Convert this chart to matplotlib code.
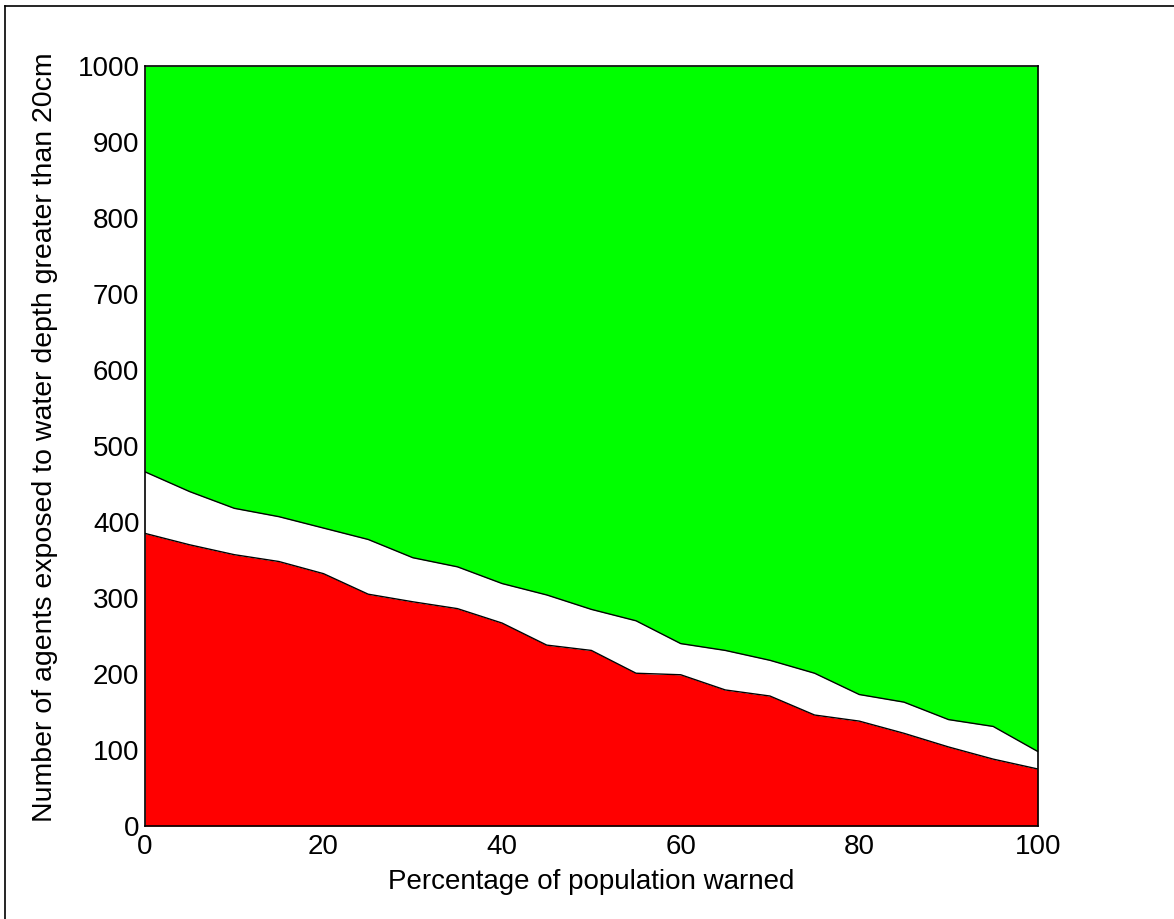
import numpy as np
import matplotlib
matplotlib.use('Agg')
import matplotlib.pyplot as plt
from matplotlib.lines import Line2D

plt.rcParams['font.family'] = ['Liberation Sans', 'DejaVu Sans']

# percentage of population warned
pct_warned = [0, 5, 10, 15, 20, 25, 30, 35, 40, 45, 50,
              55, 60, 65, 70, 75, 80, 85, 90, 95, 100]
# lower band (red)
exposed_low = [385, 370, 357, 348, 332, 305, 295, 286, 267, 238, 231,
               201, 199, 179, 171, 146, 138, 122, 104, 88, 75]
# upper band (top of white)
exposed_high = [466, 440, 418, 407, 392, 377, 353, 341, 319, 304, 285,
                270, 240, 231, 218, 201, 173, 163, 140, 131, 98]
y_max = 1000

fig = plt.figure(figsize=(11.74, 9.19), dpi=100)
ax = fig.add_axes([0.1235, 0.1012, 0.7605, 0.8270])

x = np.array(pct_warned)
lo = np.array(exposed_low)
hi = np.array(exposed_high)

ax.fill_between(x, 0, lo, color='#ff0000', linewidth=0)
ax.fill_between(x, lo, hi, color='white', linewidth=0)
ax.fill_between(x, hi, y_max, color='#00ff00', linewidth=0)
ax.plot(x, lo, color='black', linewidth=1)
ax.plot(x, hi, color='black', linewidth=1)

ax.set_xlim(0, 100)
ax.set_ylim(0, 1000)
ax.set_xticks(np.arange(0, 101, 20))
ax.set_yticks(np.arange(0, 1001, 100))
ax.tick_params(length=0, labelsize=20)
ax.tick_params(axis='y', pad=4)
ax.tick_params(axis='x', pad=6)
for s in ax.spines.values():
    s.set_linewidth(1.2)

ax.set_xlabel('Percentage of population warned', fontsize=20, labelpad=6)
ax.set_ylabel('Number of agents exposed to water depth greater than 20cm', fontsize=20.5)
ax.yaxis.set_label_coords(-0.0974, 0.512)

# frame lines on the left and top edges of the figure
fig.add_artist(Line2D([5 / 1174, 5 / 1174], [0, 1 - 6 / 919], transform=fig.transFigure, color='black', linewidth=1.2))
fig.add_artist(Line2D([5 / 1174, 1], [1 - 6 / 919, 1 - 6 / 919], transform=fig.transFigure, color='black', linewidth=1.2))

fig.savefig('out.png', dpi=100)
